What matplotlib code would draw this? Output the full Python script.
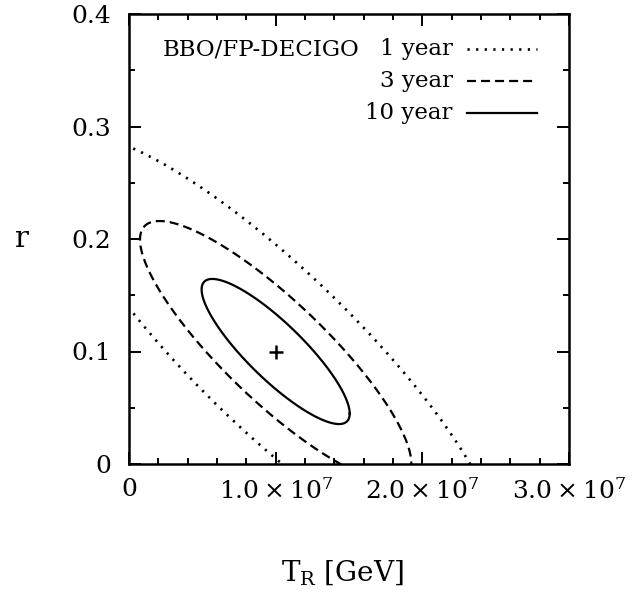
import numpy as np
import matplotlib
matplotlib.use('Agg')
import matplotlib.pyplot as plt
from matplotlib.ticker import MultipleLocator

plt.rcParams['font.family'] = 'DejaVu Serif'
plt.rcParams['mathtext.fontset'] = 'dejavuserif'
plt.rcParams['lines.scale_dashes'] = False

# fiducial point
center_T = 1.0e7
center_r = 0.1

# error ellipses (half extents along each axis + correlation)
years = ['1 year', '3 year', '10 year']
half_T = [1.52e7, 0.925e7, 0.505e7]
half_r = [0.193, 0.116, 0.0645]
corr = [-0.87, -0.857, -0.855]
styles = [(0, (1.6, 4.6)), (0, (6.5, 3.6)), '-']
widths = [1.9, 1.6, 1.6]

xticks = [0, 1.0e7, 2.0e7, 3.0e7]
xtick_labels = ['0', r'$1.0\times10^{7}$', r'$2.0\times10^{7}$', r'$3.0\times10^{7}$']
yticks = [0, 0.1, 0.2, 0.3, 0.4]
ytick_labels = ['0', '0.1', '0.2', '0.3', '0.4']

fig = plt.figure(figsize=(6.34, 5.94), dpi=100)
ax = fig.add_axes([129/634, 1-464/594, 440/634, 450/594])

t = np.linspace(0, 2*np.pi, 600)
for i in range(len(years)):
    phi = np.arccos(corr[i])
    x = center_T + half_T[i]*np.cos(t)
    y = center_r + half_r[i]*np.cos(t + phi)
    ax.plot(x, y, color='black', lw=widths[i], linestyle=styles[i])

ax.plot(center_T, center_r, marker='+', color='black', ms=10, mew=1.8)

ax.set_xlim(0, 3.0e7)
ax.set_ylim(0, 0.4)
ax.set_xticks(xticks)
ax.set_xticklabels(xtick_labels)
ax.set_yticks(yticks)
ax.set_yticklabels(ytick_labels)
ax.xaxis.set_minor_locator(MultipleLocator(0.2e7))
ax.yaxis.set_minor_locator(MultipleLocator(0.05))
ax.tick_params(which='both', direction='in', top=True, right=True, width=1.4, labelsize=18)
ax.tick_params(which='major', length=8.5)
ax.tick_params(which='minor', length=4)
ax.tick_params(axis='x', pad=10)
ax.tick_params(axis='y', pad=13)
for s in ax.spines.values():
    s.set_linewidth(1.8)

ax.set_xlabel(r'$\mathrm{T_R}$ [GeV]', fontsize=20)
ax.xaxis.set_label_coords(0.486, -0.242)
ax.xaxis.label.set_va('center')
ax.set_ylabel('r', fontsize=21, rotation=0)
ax.yaxis.set_label_coords(-0.243, 0.5)
ax.yaxis.label.set_va('center')

# legend drawn by hand, labels right aligned
ax.text(0.077, 0.92, 'BBO/FP-DECIGO', transform=ax.transAxes, fontsize=16.5, ha='left', va='center')
rows = [0.922, 0.851, 0.780]
for i in range(len(years)):
    ax.text(0.736, rows[i], years[i], transform=ax.transAxes, fontsize=16.5, ha='right', va='center')
    ax.plot([0.768, 0.927], [rows[i], rows[i]], transform=ax.transAxes, color='black',
            lw=widths[i], linestyle=styles[i])

plt.savefig('out.png', dpi=100)
